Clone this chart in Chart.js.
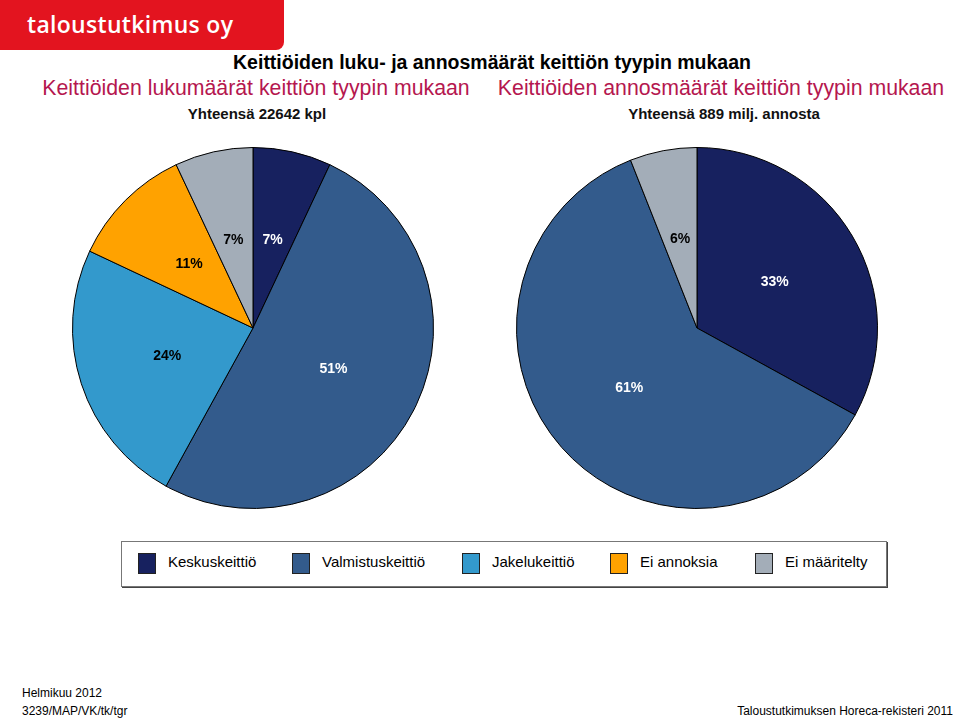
<!DOCTYPE html>
<html>
<head>
<meta charset="utf-8">
<script src="https://cdn.jsdelivr.net/npm/chart.js@4"></script>
<style>
  html, body { margin: 0; padding: 0; background: #fff; }
  body { width: 960px; height: 719px; position: relative; overflow: hidden; font-family: Arial, "Liberation Sans", sans-serif; }
  .abs { position: absolute; white-space: nowrap; }
  #logo { left: 0; top: 0; width: 284px; height: 50px; background: #e3141f; border-bottom-right-radius: 8px; }
  #logo span { position: absolute; left: 27px; top: 8px; color: #fff; font-family: "Open Sans", sans-serif; font-weight: 600; font-size: 23px; letter-spacing: 0.3px; }
  .title { font-weight: bold; font-size: 19.5px; color: #000; }
  .sub { font-size: 21.3px; color: #b5174f; }
  .tot { font-weight: bold; font-size: 15px; color: #111; }
  .foot { font-size: 12px; color: #000; }
  #legend { left: 121px; top: 541px; width: 764px; height: 44px; border: 1px solid #777; box-shadow: 1px 1px 0 #444; }
  .li { position: absolute; top: 11px; font-size: 15px; color: #000; }
  .li i { position: absolute; left: 0; top: 0; width: 16px; height: 19px; border: 1px solid #222; }
  canvas { position: absolute; }
</style>
</head>
<body>
<div id="logo" class="abs"><span>taloustutkimus oy</span></div>
<div class="abs title" style="left:0;width:984px;text-align:center;top:51px;">Keittiöiden luku- ja annosmäärät keittiön tyypin mukaan</div>
<div class="abs sub" style="left:0;width:512px;text-align:center;top:76px;">Keittiöiden lukumäärät keittiön tyypin mukaan</div>
<div class="abs sub" style="left:480px;width:482px;text-align:center;top:76px;">Keittiöiden annosmäärät keittiön tyypin mukaan</div>
<div class="abs tot" style="left:0;width:514px;text-align:center;top:105px;">Yhteensä 22642 kpl</div>
<div class="abs tot" style="left:480px;width:488px;text-align:center;top:105px;">Yhteensä 889 milj. annosta</div>

<canvas id="pie1" width="362" height="362" style="left:72px;top:147px;width:362px;height:362px;"></canvas>
<canvas id="pie2" width="362" height="362" style="left:516px;top:147px;width:362px;height:362px;"></canvas>

<div id="legend" class="abs"></div>

<div class="abs foot" style="left:22px;top:686px;">Helmikuu 2012</div>
<div class="abs foot" style="left:22px;top:704px;">3239/MAP/VK/tk/tgr</div>
<div class="abs foot" style="right:7px;top:704px;">Taloustutkimuksen Horeca-rekisteri 2011</div>

<script>
// Keittiötyypit ja värit
const categories = ["Keskuskeittiö", "Valmistuskeittiö", "Jakelukeittiö", "Ei annoksia", "Ei määritelty"];
const sliceColors = ["#17215f", "#335b8c", "#3399cc", "#ffa200", "#a3adb8"];
const labelColors = ["#fff", "#fff", "#000", "#000", "#000"];

// Osuudet (%)
const kitchenCounts = [7, 51, 24, 11, 7];   // keittiöiden lukumäärät
const portionCounts = [33, 61, 0, 0, 6];    // annosmäärät

// Legenda HTML:nä (yhteinen molemmille piirakoille)
const legendX = [16, 170, 340, 488, 633];
const legend = document.getElementById("legend");
categories.forEach((name, i) => {
  const el = document.createElement("div");
  el.className = "li";
  el.style.left = legendX[i] + "px";
  el.innerHTML = `<i style="background:${sliceColors[i]}"></i><span style="margin-left:30px">${name}</span>`;
  legend.appendChild(el);
});

// Prosenttilukujen piirto sektoreiden päälle
const pctLabels = {
  id: "pctLabels",
  afterDatasetsDraw(chart) {
    const ctx = chart.ctx;
    const meta = chart.getDatasetMeta(0);
    const values = chart.data.datasets[0].data;
    ctx.save();
    ctx.font = "bold 14px Arial, 'Liberation Sans', sans-serif";
    ctx.textAlign = "center";
    ctx.textBaseline = "middle";
    meta.data.forEach((arc, i) => {
      if (!values[i]) return;
      const p = arc.getProps(["x", "y", "startAngle", "endAngle", "outerRadius"], true);
      const mid = (p.startAngle + p.endAngle) / 2;
      const r = p.outerRadius * 0.5;
      ctx.fillStyle = labelColors[i];
      ctx.fillText(values[i] + "%", p.x + Math.cos(mid) * r, p.y + Math.sin(mid) * r);
    });
    ctx.restore();
  },
};

function createPie(id, values) {
  const ctx = document.getElementById(id).getContext("2d");
  return new Chart(ctx, {
    type: "pie",
    data: {
      labels: categories,
      datasets: [{
        data: values,
        backgroundColor: sliceColors,
        borderColor: "#000",
        borderWidth: 1,
      }],
    },
    options: {
      responsive: false,
      animation: false,
      layout: { padding: 0 },
      plugins: {
        legend: { display: false },
        tooltip: { enabled: false },
      },
    },
    plugins: [pctLabels],
  });
}

createPie("pie1", kitchenCounts);
createPie("pie2", portionCounts);
</script>
</body>
</html>
